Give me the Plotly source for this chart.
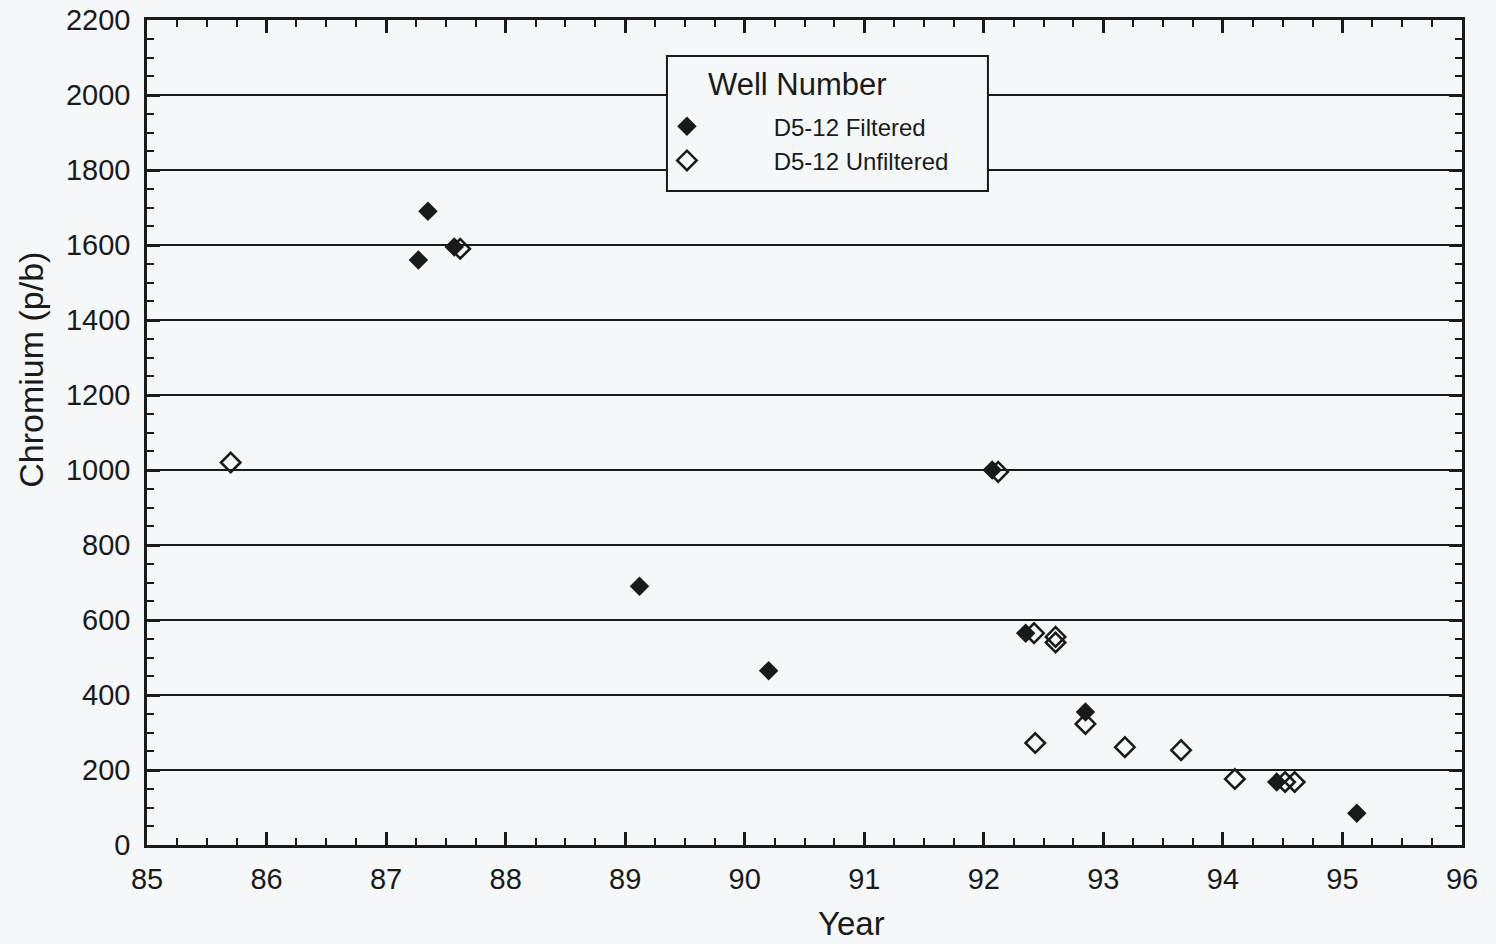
import plotly.graph_objects as go

# Filtered (solid diamonds)
filt_year = [87.27, 87.35, 87.57, 89.12, 90.2, 92.07, 92.35, 92.85, 94.45, 95.12]
filt_val = [1560, 1690, 1595, 690, 465, 1000, 565, 355, 168, 85]

# Unfiltered (open diamonds)
unf_year = [85.7, 87.62, 92.12, 92.42, 92.6, 92.6, 92.43, 92.85, 93.18, 93.65, 94.1, 94.52, 94.6]
unf_val = [1020, 1590, 995, 565, 555, 540, 272, 323, 261, 253, 176, 168, 168]

x_ticks = list(range(85, 97))
y_ticks = list(range(0, 2201, 200))

BG = "#f4f8f8"
INK = "#1a1a1a"
FONT = "Liberation Sans, Arial, sans-serif"
NB = "\u00a0"

fig = go.Figure()
fig.add_trace(go.Scatter(
    x=filt_year, y=filt_val, mode="markers", name=NB * 10 + "D5-12 Filtered",
    marker=dict(symbol="diamond", size=15, color=INK),
))
fig.add_trace(go.Scatter(
    x=unf_year, y=unf_val, mode="markers", name=NB * 10 + "D5-12 Unfiltered",
    marker=dict(symbol="diamond-open", size=15, color=INK,
                line=dict(width=2.5, color=INK)),
))

fig.update_layout(
    width=1496, height=944,
    margin=dict(l=147, r=34, t=20, b=99),
    paper_bgcolor=BG, plot_bgcolor=BG,
    font=dict(family=FONT, color=INK),
    showlegend=True,
    legend=dict(
        x=0.3954, y=0.898, xanchor="left", yanchor="top",
        bgcolor="rgba(0,0,0,0)", borderwidth=0,
        font=dict(size=24, family=FONT),
        itemwidth=30, tracegroupgap=0,
    ),
    shapes=[
        dict(type="rect", xref="paper", yref="paper",
             x0=0.3954, x1=0.6395, y0=0.7927, y1=0.9564,
             line=dict(color=INK, width=2), fillcolor=BG, layer="above"),
    ],
    xaxis=dict(
        range=[85, 96], tickvals=x_ticks, ticktext=[str(v) for v in x_ticks],
        showgrid=False, zeroline=False, automargin=False,
        showline=True, linecolor=INK, linewidth=2.5, mirror="ticks",
        ticks="inside", ticklen=13, tickwidth=2.5, tickcolor=INK,
        tickfont=dict(size=29, family=FONT), ticklabelstandoff=6,
        minor=dict(dtick=0.25, ticks="inside", ticklen=7, tickwidth=2, tickcolor=INK, showgrid=False),
    ),
    yaxis=dict(
        range=[0, 2200], tickvals=y_ticks, ticktext=[str(v) for v in y_ticks],
        showgrid=True, gridcolor=INK, gridwidth=2, zeroline=False, automargin=False,
        showline=True, linecolor=INK, linewidth=2.5, mirror="ticks",
        ticks="inside", ticklen=13, tickwidth=2.5, tickcolor=INK,
        tickfont=dict(size=29, family=FONT), ticklabelstandoff=8,
        minor=dict(dtick=50, ticks="inside", ticklen=7, tickwidth=2, tickcolor=INK, showgrid=False),
    ),
    annotations=[
        dict(text="Well Number", xref="paper", yref="paper",
             x=(706 - 147) / 1315, y=(845 - 85) / 825,
             xanchor="left", yanchor="middle", showarrow=False,
             font=dict(size=31, family=FONT, color=INK)),
        dict(text="Year", xref="paper", yref="paper", x=0.536, y=0, yshift=-78,
             xanchor="center", yanchor="middle", showarrow=False,
             font=dict(size=33, family=FONT, color=INK)),
        dict(text="Chromium (p/b)", xref="paper", yref="paper", x=0, xshift=-116,
             y=0.576, xanchor="center", yanchor="middle", textangle=-90, showarrow=False,
             font=dict(size=34, family=FONT, color=INK)),
    ],
)

fig.write_html("out.html")
